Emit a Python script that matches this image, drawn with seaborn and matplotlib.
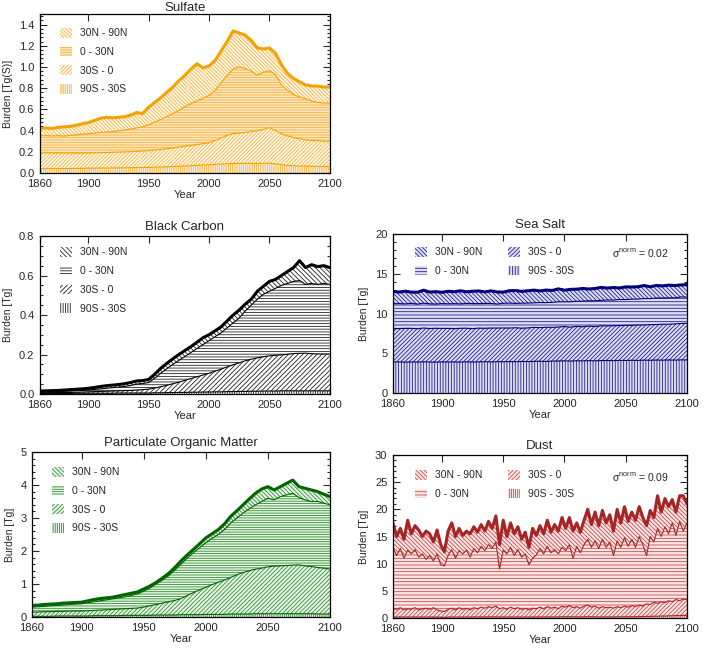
import numpy as np
import matplotlib
matplotlib.use("Agg")
import matplotlib.pyplot as plt
from matplotlib.ticker import MultipleLocator, AutoMinorLocator, NullLocator
import seaborn as sns

# yearly burdens (5-year samples, dust every 3 years)
years_5 = list(range(1860, 2101, 5))
years_3 = list(range(1860, 2101, 3))
regions = ["90S - 30S", "30S - 0", "0 - 30N", "30N - 90N"]

sulfate_90s_30s = [0.040, 0.040, 0.041, 0.041, 0.042, 0.042, 0.043, 0.044, 0.045, 0.046,
                   0.047, 0.047, 0.048, 0.048, 0.049, 0.050, 0.051, 0.052, 0.053, 0.055,
                   0.057, 0.059, 0.061, 0.063, 0.066, 0.069, 0.072, 0.075, 0.078, 0.081,
                   0.084, 0.087, 0.089, 0.090, 0.090, 0.090, 0.090, 0.091, 0.092, 0.086,
                   0.078, 0.072, 0.068, 0.066, 0.064, 0.063, 0.062, 0.061, 0.060]
sulfate_30s_0 = [0.150, 0.150, 0.148, 0.148, 0.146, 0.146, 0.145, 0.144, 0.144, 0.144,
                 0.144, 0.146, 0.147, 0.149, 0.150, 0.151, 0.153, 0.155, 0.158, 0.161,
                 0.165, 0.170, 0.175, 0.181, 0.186, 0.191, 0.196, 0.201, 0.208, 0.224,
                 0.246, 0.268, 0.283, 0.285, 0.292, 0.300, 0.308, 0.319, 0.336, 0.314,
                 0.292, 0.278, 0.267, 0.256, 0.249, 0.244, 0.241, 0.239, 0.238]
sulfate_0_30n = [0.160, 0.162, 0.161, 0.163, 0.160, 0.167, 0.172, 0.177, 0.181, 0.185,
                 0.191, 0.192, 0.195, 0.201, 0.206, 0.214, 0.221, 0.228, 0.244, 0.264,
                 0.283, 0.301, 0.324, 0.346, 0.373, 0.395, 0.412, 0.429, 0.444, 0.475,
                 0.520, 0.565, 0.608, 0.625, 0.603, 0.570, 0.527, 0.540, 0.537, 0.530,
                 0.460, 0.430, 0.405, 0.393, 0.387, 0.373, 0.362, 0.360, 0.362]
sulfate_30n_90n = [0.070, 0.073, 0.070, 0.078, 0.087, 0.085, 0.090, 0.100, 0.105, 0.120,
                   0.133, 0.140, 0.130, 0.127, 0.125, 0.130, 0.145, 0.125, 0.165, 0.185,
                   0.205, 0.230, 0.250, 0.280, 0.295, 0.325, 0.350, 0.285, 0.280, 0.280,
                   0.300, 0.320, 0.360, 0.320, 0.315, 0.290, 0.255, 0.220, 0.215, 0.200,
                   0.190, 0.160, 0.150, 0.145, 0.130, 0.140, 0.155, 0.150, 0.150]

bc_90s_30s = [0.003, 0.003, 0.003, 0.003, 0.003, 0.003, 0.004, 0.004, 0.004, 0.004,
              0.004, 0.004, 0.004, 0.005, 0.005, 0.005, 0.005, 0.005, 0.005, 0.006,
              0.006, 0.007, 0.007, 0.008, 0.008, 0.009, 0.009, 0.010, 0.010, 0.011,
              0.011, 0.012, 0.012, 0.013, 0.013, 0.014, 0.014, 0.015, 0.015, 0.015,
              0.016, 0.016, 0.016, 0.016, 0.016, 0.016, 0.016, 0.016, 0.016]
bc_30s_0 = [0.003, 0.003, 0.004, 0.004, 0.005, 0.005, 0.005, 0.006, 0.007, 0.008,
            0.009, 0.010, 0.011, 0.011, 0.012, 0.013, 0.015, 0.017, 0.020, 0.024,
            0.031, 0.037, 0.045, 0.052, 0.061, 0.069, 0.078, 0.086, 0.095, 0.104,
            0.115, 0.125, 0.136, 0.145, 0.155, 0.162, 0.169, 0.174, 0.178, 0.181,
            0.182, 0.185, 0.189, 0.190, 0.191, 0.188, 0.187, 0.186, 0.186]
bc_0_30n = [0.004, 0.005, 0.005, 0.006, 0.006, 0.007, 0.008, 0.008, 0.009, 0.011,
            0.013, 0.015, 0.017, 0.019, 0.021, 0.025, 0.030, 0.031, 0.033, 0.050,
            0.068, 0.084, 0.098, 0.110, 0.121, 0.132, 0.143, 0.154, 0.165, 0.175,
            0.184, 0.198, 0.212, 0.227, 0.252, 0.274, 0.297, 0.316, 0.327, 0.339,
            0.352, 0.359, 0.365, 0.369, 0.348, 0.356, 0.352, 0.358, 0.353]
bc_30n_90n = [0.005, 0.005, 0.005, 0.005, 0.006, 0.007, 0.007, 0.008, 0.009, 0.010,
              0.012, 0.013, 0.013, 0.013, 0.014, 0.015, 0.016, 0.015, 0.016, 0.020,
              0.025, 0.027, 0.028, 0.030, 0.030, 0.030, 0.032, 0.035, 0.030, 0.030,
              0.030, 0.035, 0.040, 0.040, 0.035, 0.030, 0.040, 0.040, 0.050, 0.045,
              0.050, 0.060, 0.070, 0.100, 0.085, 0.095, 0.090, 0.090, 0.085]

seasalt_90s_30s = [3.90, 3.92, 3.88, 3.91, 3.89, 3.93, 3.90, 3.88, 3.92, 3.90,
                   3.91, 3.89, 3.93, 3.90, 3.92, 3.94, 3.91, 3.95, 3.93, 3.96,
                   3.94, 3.97, 3.95, 3.98, 4.00, 3.97, 4.01, 4.03, 4.05, 4.02,
                   4.06, 4.04, 4.07, 4.05, 4.08, 4.10, 4.07, 4.11, 4.09, 4.12,
                   4.10, 4.14, 4.12, 4.15, 4.13, 4.16, 4.14, 4.17, 4.16]
seasalt_30s_0 = [4.20, 4.18, 4.25, 4.22, 4.19, 4.24, 4.21, 4.26, 4.20, 4.23,
                 4.18, 4.25, 4.22, 4.19, 4.24, 4.20, 4.26, 4.22, 4.25, 4.21,
                 4.27, 4.18, 4.24, 4.28, 4.22, 4.30, 4.25, 4.27, 4.31, 4.26,
                 4.33, 4.29, 4.35, 4.31, 4.38, 4.34, 4.40, 4.37, 4.42, 4.39,
                 4.45, 4.42, 4.48, 4.46, 4.52, 4.49, 4.55, 4.58, 4.60]
seasalt_0_30n = [3.12, 3.15, 3.08, 3.16, 3.10, 3.14, 3.11, 3.05, 3.13, 3.09,
                 3.15, 3.07, 3.12, 3.16, 3.08, 3.13, 3.10, 3.02, 3.11, 3.14,
                 3.06, 3.15, 3.12, 3.08, 3.16, 3.10, 3.14, 3.18, 3.12, 3.20,
                 3.15, 3.22, 3.18, 3.24, 3.20, 3.26, 3.22, 3.28, 3.24, 3.30,
                 3.26, 3.32, 3.28, 3.34, 3.30, 3.32, 3.28, 3.34, 3.30]
seasalt_30n_90n = [1.55, 1.45, 1.60, 1.40, 1.50, 1.62, 1.48, 1.56, 1.42, 1.58,
                   1.50, 1.65, 1.46, 1.55, 1.60, 1.44, 1.58, 1.52, 1.40, 1.56,
                   1.62, 1.48, 1.55, 1.60, 1.46, 1.58, 1.50, 1.62, 1.45, 1.56,
                   1.52, 1.60, 1.48, 1.55, 1.62, 1.50, 1.58, 1.45, 1.60, 1.52,
                   1.56, 1.64, 1.48, 1.58, 1.52, 1.60, 1.55, 1.50, 1.58]

pom_90s_30s = [0.02, 0.02, 0.02, 0.02, 0.03, 0.03, 0.03, 0.03, 0.03, 0.03,
               0.04, 0.04, 0.04, 0.04, 0.04, 0.05, 0.05, 0.05, 0.05, 0.05,
               0.06, 0.06, 0.06, 0.06, 0.07, 0.07, 0.07, 0.07, 0.08, 0.08,
               0.08, 0.08, 0.09, 0.09, 0.09, 0.09, 0.10, 0.10, 0.10, 0.10,
               0.10, 0.10, 0.10, 0.10, 0.10, 0.10, 0.09, 0.09, 0.09]
pom_30s_0 = [0.13, 0.13, 0.14, 0.14, 0.14, 0.14, 0.15, 0.15, 0.15, 0.16,
             0.16, 0.17, 0.18, 0.19, 0.20, 0.20, 0.21, 0.22, 0.25, 0.29,
             0.32, 0.36, 0.40, 0.44, 0.49, 0.58, 0.67, 0.75, 0.82, 0.90,
             0.97, 1.04, 1.11, 1.19, 1.26, 1.31, 1.35, 1.38, 1.42, 1.44,
             1.45, 1.46, 1.47, 1.48, 1.45, 1.43, 1.41, 1.39, 1.36]
pom_0_30n = [0.15, 0.16, 0.16, 0.18, 0.18, 0.19, 0.20, 0.21, 0.22, 0.24,
             0.26, 0.28, 0.30, 0.32, 0.34, 0.36, 0.39, 0.43, 0.48, 0.54,
             0.62, 0.70, 0.79, 0.92, 1.04, 1.13, 1.21, 1.28, 1.35, 1.40,
             1.45, 1.53, 1.65, 1.72, 1.80, 1.88, 1.95, 2.02, 2.08, 2.01,
             2.10, 2.14, 2.18, 2.04, 2.00, 1.97, 2.00, 1.97, 1.95]
pom_30n_90n = [0.05, 0.05, 0.06, 0.05, 0.05, 0.06, 0.05, 0.05, 0.05, 0.06,
               0.07, 0.07, 0.06, 0.05, 0.06, 0.07, 0.07, 0.06, 0.07, 0.06,
               0.05, 0.06, 0.07, 0.08, 0.10, 0.10, 0.10, 0.12, 0.15, 0.14,
               0.15, 0.17, 0.20, 0.22, 0.25, 0.30, 0.35, 0.38, 0.35, 0.30,
               0.30, 0.35, 0.40, 0.33, 0.35, 0.35, 0.30, 0.27, 0.25]

dust_90s_30s = [0.20, 0.15, 0.22, 0.18, 0.20, 0.16, 0.22, 0.18, 0.20, 0.17,
                0.21, 0.18, 0.20, 0.15, 0.14, 0.18, 0.21, 0.17, 0.20, 0.18,
                0.21, 0.17, 0.22, 0.19, 0.22, 0.20, 0.23, 0.20, 0.24, 0.18,
                0.21, 0.18, 0.22, 0.19, 0.21, 0.18, 0.20, 0.17, 0.20, 0.19,
                0.22, 0.19, 0.23, 0.20, 0.22, 0.19, 0.24, 0.22, 0.25, 0.21,
                0.23, 0.20, 0.24, 0.26, 0.22, 0.24, 0.20, 0.23, 0.21, 0.22,
                0.20, 0.23, 0.21, 0.24, 0.22, 0.25, 0.23, 0.27, 0.25, 0.30,
                0.30, 0.34, 0.32, 0.38, 0.35, 0.42, 0.40, 0.46, 0.44, 0.50, 0.48]
dust_30s_0 = [1.60, 1.45, 1.68, 1.32, 1.50, 1.44, 1.68, 1.32, 1.50, 1.63,
              1.39, 1.72, 1.30, 1.15, 1.06, 1.42, 1.59, 1.33, 1.70, 1.42,
              1.59, 1.33, 1.68, 1.51, 1.78, 1.60, 1.87, 1.70, 1.96, 1.52,
              1.69, 1.42, 1.78, 1.51, 1.69, 1.42, 1.60, 1.33, 1.60, 1.51,
              1.78, 1.51, 1.87, 1.60, 1.78, 1.51, 1.96, 1.78, 2.05, 1.69,
              1.87, 1.60, 1.96, 2.14, 1.78, 1.96, 1.60, 1.87, 1.69, 1.78,
              1.60, 1.87, 1.69, 1.96, 1.78, 2.05, 1.87, 2.13, 1.95, 2.30,
              2.20, 2.56, 2.38, 2.62, 2.45, 2.78, 2.60, 2.94, 2.76, 3.00, 2.92]
dust_0_30n = [11.2, 9.9, 10.9, 9.5, 10.8, 10.2, 10.7, 9.7, 10.1, 9.0,
              9.9, 8.6, 10.3, 8.5, 8.4, 9.9, 10.8, 9.5, 10.5, 10.2,
              10.7, 9.7, 10.9, 10.3, 11.2, 10.6, 11.4, 10.9, 11.8, 7.3,
              10.6, 10.2, 11.0, 9.8, 10.7, 9.6, 10.0, 8.3, 9.2, 9.9,
              10.8, 10.1, 11.1, 10.2, 10.6, 10.1, 10.8, 10.4, 11.2, 9.1,
              11.1, 10.2, 11.3, 12.1, 11.0, 12.0, 11.0, 12.4, 11.1, 12.0,
              9.7, 12.1, 11.1, 12.6, 11.2, 12.2, 10.9, 12.6, 11.3, 8.9,
              12.5, 11.1, 13.8, 12.0, 14.0, 12.3, 14.5, 11.8, 14.6, 12.5, 14.1]
dust_30n_90n = [4.5, 3.5, 3.7, 3.5, 5.5, 3.7, 4.4, 5.0, 3.2, 5.2,
                4.0, 3.5, 4.4, 3.7, 2.6, 4.5, 4.9, 4.0, 4.1, 3.4,
                3.5, 4.3, 4.0, 3.8, 4.0, 3.6, 4.3, 3.7, 4.8, 4.5,
                5.5, 3.2, 4.5, 4.0, 4.2, 3.3, 4.0, 3.2, 5.5, 3.6,
                4.2, 3.7, 4.8, 3.8, 4.6, 4.2, 5.5, 4.1, 5.0, 5.0,
                4.3, 3.8, 4.5, 5.5, 4.2, 5.3, 4.2, 5.3, 4.5, 5.0,
                4.5, 5.8, 4.5, 5.7, 4.6, 5.0, 5.0, 5.5, 5.0, 5.5,
                4.8, 4.5, 6.0, 4.5, 5.2, 5.0, 4.3, 4.3, 4.7, 6.5, 3.5]


def draw_panel(ax, years, layers, colors, title, ylabel, ylim, ystep, nminor,
               hatches, anchor, ncol=1, sigma=None, title_pad=4):
    """Stacked hatched areas per latitude band with outlined edges."""
    line_color, hatch_color, face_color = colors
    polys = ax.stackplot(years, *layers, labels=regions, colors=[face_color] * 4,
                         edgecolor=hatch_color, linewidth=0)
    for poly, h in zip(polys, hatches):
        poly.set_hatch(h)

    edges = np.cumsum(np.array(layers), axis=0)
    for k, edge in enumerate(edges):
        sns.lineplot(x=years, y=edge, ax=ax, color=line_color, estimator=None,
                     sort=False, linewidth=2.2 if k == 3 else 0.8, legend=False)

    ax.set_xlim(1860, 2100)
    ax.set_ylim(*ylim)
    ax.set_xticks([1860, 1900, 1950, 2000, 2050, 2100])
    ax.xaxis.set_minor_locator(NullLocator())
    ax.yaxis.set_major_locator(MultipleLocator(ystep))
    ax.yaxis.set_minor_locator(AutoMinorLocator(nminor))
    ax.tick_params(which="both", direction="in", top=True, right=True,
                   width=0.8, labelsize=8, pad=4)
    ax.tick_params(which="major", length=5)
    ax.tick_params(which="minor", length=2.5)
    for sp in ax.spines.values():
        sp.set_linewidth(0.9)
        sp.set_color("black")

    ax.set_title(title, fontsize=9.5, pad=title_pad)
    ax.set_xlabel("Year", fontsize=8, labelpad=1)
    ax.set_ylabel(ylabel, fontsize=7.5, labelpad=4)

    ax.legend(polys[::-1], regions[::-1], loc="upper left", bbox_to_anchor=anchor,
              ncol=ncol, frameon=False, fontsize=7.5, handlelength=1.15,
              handleheight=1.05, handletextpad=0.8, labelspacing=0.8,
              columnspacing=2.4, borderpad=0, borderaxespad=0)
    if sigma is not None:
        ax.text(sigma[0], sigma[1], sigma[2], transform=ax.transAxes,
                fontsize=7.5, ha="left", va="center")


sns.set_style("ticks")
plt.rcParams["font.family"] = ["Liberation Sans", "DejaVu Sans"]
plt.rcParams["mathtext.fontset"] = "custom"
plt.rcParams["mathtext.rm"] = "Liberation Sans"
plt.rcParams["hatch.linewidth"] = 0.6

fig = plt.figure(figsize=(7.05, 6.52), dpi=100)

ax_su = fig.add_axes([0.0567, 0.7347, 0.411, 0.2439])
ax_bc = fig.add_axes([0.0567, 0.3957, 0.411, 0.2423])
ax_ss = fig.add_axes([0.5574, 0.3972, 0.417, 0.2439])
ax_om = fig.add_axes([0.0454, 0.0537, 0.4227, 0.2530])
ax_du = fig.add_axes([0.5574, 0.0521, 0.417, 0.2500])

draw_panel(ax_su, years_5,
           [sulfate_90s_30s, sulfate_30s_0, sulfate_0_30n, sulfate_30n_90n],
           ("#f5a200", "#f7b23a", "#fff9ee"), "Sulfate", "Burden [Tg(S)]",
           (0, 1.5), 0.2, 5, ["|" * 9, "/" * 9, "-" * 10, "\\" * 9], (0.069, 0.912),
           title_pad=1.5)

draw_panel(ax_bc, years_5,
           [bc_90s_30s, bc_30s_0, bc_0_30n, bc_30n_90n],
           ("black", "#222222", "white"), "Black Carbon", "Burden [Tg]",
           (0, 0.8), 0.2, 4, ["|" * 7, "/" * 7, "-" * 6, "\\" * 7], (0.069, 0.93))

draw_panel(ax_ss, years_5,
           [seasalt_90s_30s, seasalt_30s_0, seasalt_0_30n, seasalt_30n_90n],
           ("#00007a", "#24248f", "#dcdcf4"), "Sea Salt", "Burden [Tg]",
           (0, 20), 5, 5, ["|" * 6, "/" * 8, "-" * 5, "\\" * 8], (0.075, 0.918),
           ncol=2, sigma=(0.745, 0.88, "σ$^{\\mathrm{norm}}$ = 0.02"))

draw_panel(ax_om, years_5,
           [pom_90s_30s, pom_30s_0, pom_0_30n, pom_30n_90n],
           ("#006400", "#2f8f2f", "#eaf5ea"), "Particulate Organic Matter", "Burden [Tg]",
           (0, 5), 1, 5, ["|" * 8, "/" * 8, "-" * 7, "\\" * 8], (0.067, 0.91))

draw_panel(ax_du, years_3,
           [dust_90s_30s, dust_30s_0, dust_0_30n, dust_30n_90n],
           ("#a82424", "#c44a4a", "#fce6e6"), "Dust", "Burden [Tg]",
           (0, 30), 5, 5, ["|" * 8, "/" * 8, "-" * 5, "\\" * 8], (0.075, 0.908),
           ncol=2, sigma=(0.745, 0.865, "σ$^{\\mathrm{norm}}$ = 0.09"))

fig.savefig("out.png", dpi=100)
